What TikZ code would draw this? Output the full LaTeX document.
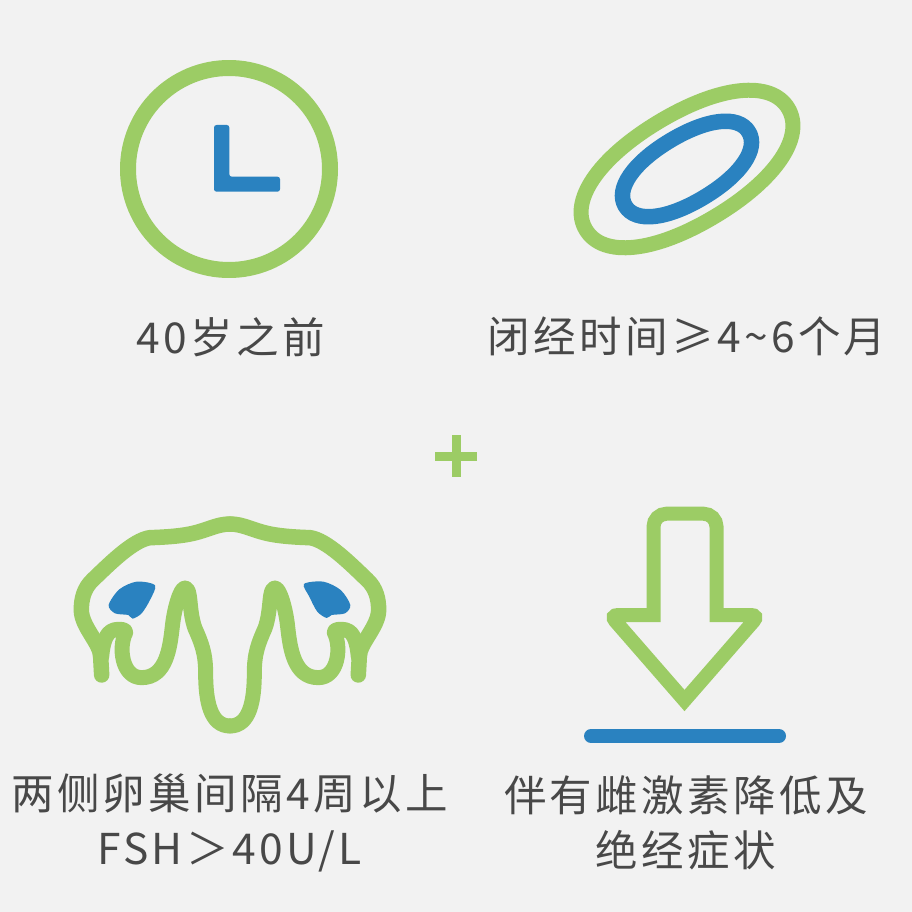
\documentclass[tikz,border=0pt]{standalone}
\usepackage{fontspec}
\setmainfont{Noto Sans CJK SC}
\definecolor{bgc}{HTML}{F2F2F2}
\definecolor{gc}{HTML}{9CCC65}
\definecolor{bc}{HTML}{2A82C0}
\definecolor{tc}{HTML}{484848}
\newcommand{\squircle}[3]{% a b k
  (#1,0) .. controls (#1,#3*#2) and (#3*#1,#2) .. (0,#2)
  .. controls (-#3*#1,#2) and (-#1,#3*#2) .. (-#1,0)
  .. controls (-#1,-#3*#2) and (-#3*#1,-#2) .. (0,-#2)
  .. controls (#3*#1,-#2) and (#1,-#3*#2) .. cycle}
\tikzset{
  greenline/.style={draw=gc,line width=16pt,line join=round,line cap=round},
  blueline/.style={draw=bc,line width=16pt,line join=round},
  label/.style={text=tc,font=\fontsize{42.5}{54.5}\selectfont\addfontfeatures{LetterSpace=8},align=center,inner sep=0pt,anchor=center},
}
\begin{document}
\begin{tikzpicture}[x=1pt,y=-1pt]
\useasboundingbox (0,0) rectangle (912,912);
\fill[bgc] (0,0) rectangle (912,912);
% clock
\draw[greenline] (229,169) circle (101);
\fill[bc,rounded corners=2.5pt] (214,125) -- (229.3,125) -- (229.3,176.7) -- (280,176.7) -- (280,191.7) -- (214,191.7) -- cycle;
% ovals
\begin{scope}[shift={(687,169)},rotate=31]
\draw[greenline,line width=15pt] \squircle{118}{55}{0.6};
\draw[blueline,line width=15.5pt] \squircle{72}{33}{0.6};
\end{scope}
% plus
\draw[draw=gc,line width=9pt] (435,456.5) -- (477,456.5) (456,435) -- (456,477);
% uterus
\begin{scope}[shift={(60,500)},x=0.3333pt,y=-0.3333pt]
\foreach \m in {1,-1}{
\begin{scope}[shift={(510,0)},xscale=\m,shift={(-510,0)}]
\draw[greenline,line width=15.5pt] (510,72) .. controls (470,72) and (440,92) .. (390,102) .. controls (350,110) and (300,112) .. (270,113) .. controls (220,120) and (150,190) .. (100,238) .. controls (70,265) and (64,300) .. (64,330) .. controls (64,380) and (122,430) .. (122,470) -- (125,525);
\draw[greenline,line width=15pt] (125,470) .. controls (130,420) and (140,388) .. (175,388) .. controls (185,388) and (197,388) .. (197,398) .. controls (175,440) and (185,533) .. (245,533) .. controls (320,533) and (330,440) .. (337,380) .. controls (342,330) and (360,264) .. (375,264) .. controls (395,264) and (385,330) .. (405,385) .. controls (425,430) and (437,460) .. (437,520) .. controls (437,600) and (450,678) .. (510,678);
\end{scope}}
\fill[bc] plot[smooth cycle,tension=0.5] coordinates {(285,256) (230,245) (178,268) (146,315) (165,340) (205,345) (218,356) (245,340) (270,300)};
\fill[bc] plot[smooth cycle,tension=0.5] coordinates {(732,252) (790,245) (842,270) (871,315) (855,340) (815,345) (800,354) (772,335) (748,290)};
\end{scope}
% arrow
\draw[draw=gc,line width=14pt,line join=miter,miter limit=10]
  (653.5,615) [rounded corners=13pt] -- (653.5,513.7) -- (716.5,513.7) [sharp corners] -- (716.5,615)
  [rounded corners=8pt] -- (759,615) [sharp corners] -- (684.5,700.5)
  [rounded corners=8pt] -- (610,615) [sharp corners] -- cycle;
\draw[draw=bc,line width=14pt,line cap=round] (591,736) -- (779,736);
% labels
\node[label] (a) at (230.5,337) {40岁之前};
\node[label] (b) at (687,336) {闭经时间≥4\char"7E 6个月};
\node[label] (c) at (229.5,823) {两侧卵巢间隔4周以上\\FSH＞40U/L};
\node[label] (d) at (686,823) {伴有雌激素降低及\\绝经症状};
\end{tikzpicture}
\end{document}
